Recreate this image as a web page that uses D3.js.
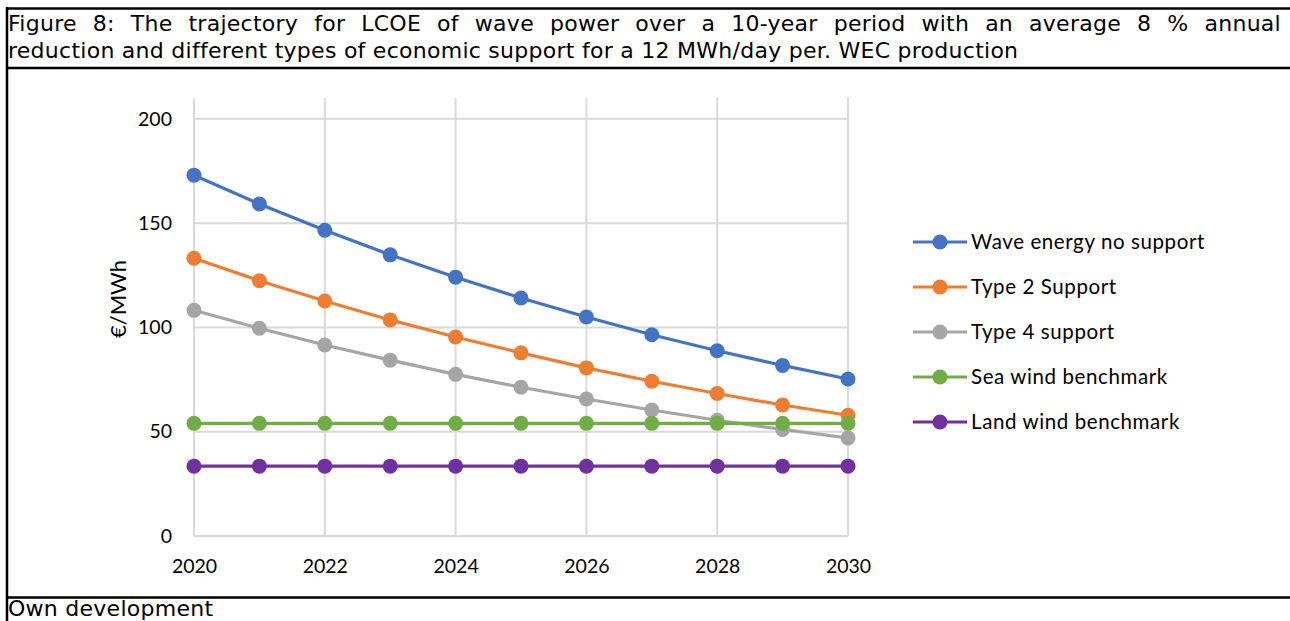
<!DOCTYPE html>
<html>
<head>
<meta charset="utf-8">
<script src="https://cdn.jsdelivr.net/npm/d3@7"></script>
<style>
  body { margin: 0; background: #fff; }
  svg { display: block; }
</style>
</head>
<body>
<div id="chart"></div>
<script>
var svgWidth = 1290;
var svgHeight = 621;

// data
var years = [2020, 2021, 2022, 2023, 2024, 2025, 2026, 2027, 2028, 2029, 2030];
var waveNoSupport = [173, 159.2, 146.6, 134.8, 124.1, 114.1, 105, 96.5, 88.8, 81.8, 75.3];
var type2Support = [133.2, 122.4, 112.7, 103.6, 95.4, 87.8, 80.6, 74.2, 68.3, 62.8, 57.9];
var type4Support = [108.2, 99.6, 91.6, 84.3, 77.5, 71.3, 65.7, 60.4, 55.5, 51.1, 47];
var seaWind = [54, 54, 54, 54, 54, 54, 54, 54, 54, 54, 54];
var landWind = [33.5, 33.5, 33.5, 33.5, 33.5, 33.5, 33.5, 33.5, 33.5, 33.5, 33.5];

var seriesNames = ["Wave energy no support", "Type 2 Support", "Type 4 support", "Sea wind benchmark", "Land wind benchmark"];
var seriesColors = ["#4472C4", "#ED7D31", "#A5A5A5", "#70AD47", "#7030A0"];
var seriesValues = [waveNoSupport, type2Support, type4Support, seaWind, landWind];

var xTicks = [2020, 2022, 2024, 2026, 2028, 2030];
var yTicks = [0, 50, 100, 150, 200];

var titleLine1 = "Figure 8: The trajectory for LCOE of wave power over a 10-year period with an average 8 % annual";
var titleLine2 = "reduction and different types of economic support for a 12 MWh/day per. WEC production";
var sourceText = "Own development";

var svg = d3.select("#chart")
  .append("svg")
  .attr("width", svgWidth)
  .attr("height", svgHeight);

// table frame
var frame = svg.append("g").attr("stroke", "#000").attr("stroke-width", 2.5);
frame.append("line").attr("x1", 6).attr("x2", svgWidth).attr("y1", 8.5).attr("y2", 8.5);
frame.append("line").attr("x1", 6).attr("x2", svgWidth).attr("y1", 68).attr("y2", 68);
frame.append("line").attr("x1", 6).attr("x2", svgWidth).attr("y1", 597.5).attr("y2", 597.5);
frame.append("line").attr("x1", 7).attr("x2", 7).attr("y1", 7).attr("y2", svgHeight);

// title (Verdana-like); letter spacing widened to match the original width
var titleFont = "'DejaVu Sans', Verdana, sans-serif";
var titleSize = "22px";
var tLeft = 8, tRight = 1281;

var line2 = svg.append("text")
  .style("font-family", titleFont)
  .style("font-size", titleSize)
  .attr("x", tLeft)
  .attr("y", 58)
  .text(titleLine2);
var natural = line2.node().getComputedTextLength();
var spacing = Math.max(0, (1010 - natural) / titleLine2.length);
line2.style("letter-spacing", spacing + "px");

// first line justified word by word
var words = titleLine1.split(" ");
var measure = svg.append("text")
  .style("font-family", titleFont)
  .style("font-size", titleSize)
  .style("letter-spacing", spacing + "px");
var widths = words.map(function(w) {
  measure.text(w);
  return measure.node().getComputedTextLength();
});
measure.remove();
var gap = (tRight - tLeft - d3.sum(widths)) / (words.length - 1);
var xPos = tLeft;
var line1 = svg.append("text")
  .style("font-family", titleFont)
  .style("font-size", titleSize)
  .style("letter-spacing", spacing + "px")
  .attr("y", 31);
words.forEach(function(w, i) {
  line1.append("tspan").attr("x", xPos).text(w);
  xPos += widths[i] + gap;
});

svg.append("text")
  .style("font-family", titleFont)
  .style("font-size", titleSize)
  .style("letter-spacing", spacing + "px")
  .attr("x", tLeft)
  .attr("y", 616)
  .text(sourceText);

// plot area
var x = d3.scaleLinear().domain([2020, 2030]).range([194, 848]);
var y = d3.scaleLinear().domain([0, 210]).range([536, 98]);

var chartFont = "Lato, 'Open Sans', sans-serif";

var grid = svg.append("g").attr("stroke", "#D9D9D9").attr("stroke-width", 2);
grid.selectAll("line.h")
  .data(yTicks)
  .enter()
  .append("line")
  .attr("x1", x(2020)).attr("x2", x(2030))
  .attr("y1", function(d) { return y(d); })
  .attr("y2", function(d) { return y(d); });
grid.selectAll("line.v")
  .data(xTicks)
  .enter()
  .append("line")
  .attr("x1", function(d) { return x(d); })
  .attr("x2", function(d) { return x(d); })
  .attr("y1", y(210)).attr("y2", y(0));

var bottomAxis = d3.axisBottom(x).tickValues(xTicks).tickFormat(d3.format("d")).tickSize(0).tickPadding(23);
var leftAxis = d3.axisLeft(y).tickValues(yTicks).tickSize(0).tickPadding(22);

var gx = svg.append("g")
  .attr("transform", "translate(0," + y(0) + ")")
  .call(bottomAxis);
var gy = svg.append("g")
  .attr("transform", "translate(" + x(2020) + ",0)")
  .call(leftAxis);
[gx, gy].forEach(function(g) {
  g.select(".domain").remove();
  g.selectAll("text")
    .style("font-family", chartFont)
    .style("font-size", "19.5px")
    .attr("fill", "#000");
});

svg.append("text")
  .attr("transform", "translate(126,299) rotate(-90)")
  .style("text-anchor", "middle")
  .style("font-family", chartFont)
  .style("font-size", "22px")
  .text("€/MWh");

var line = d3.line()
  .x(function(d, i) { return x(years[i]); })
  .y(function(d) { return y(d); });

seriesValues.forEach(function(vals, s) {
  var g = svg.append("g");
  g.append("path")
    .datum(vals)
    .attr("d", line)
    .attr("fill", "none")
    .attr("stroke", seriesColors[s])
    .attr("stroke-width", 3.2);
  g.selectAll("circle")
    .data(vals)
    .enter()
    .append("circle")
    .attr("cx", function(d, i) { return x(years[i]); })
    .attr("cy", function(d) { return y(d); })
    .attr("r", 7.5)
    .attr("fill", seriesColors[s]);
});

// legend
var legend = svg.append("g");
seriesNames.forEach(function(name, i) {
  var ly = 242 + i * 45;
  legend.append("line")
    .attr("x1", 913).attr("x2", 967)
    .attr("y1", ly).attr("y2", ly)
    .attr("stroke", seriesColors[i])
    .attr("stroke-width", 3.2);
  legend.append("circle")
    .attr("cx", 940).attr("cy", ly).attr("r", 7.5)
    .attr("fill", seriesColors[i]);
  legend.append("text")
    .attr("x", 971).attr("y", ly + 7)
    .style("font-family", chartFont)
    .style("font-size", "20.5px")
    .style("letter-spacing", "0.6px")
    .text(name);
});
</script>
</body>
</html>
